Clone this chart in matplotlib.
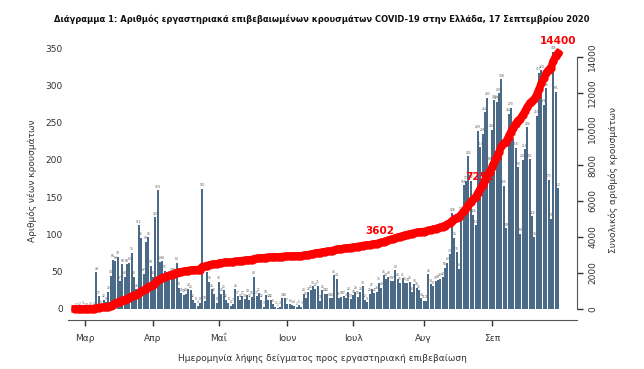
import numpy as np
import matplotlib.pyplot as plt

plt.rcParams['font.family'] = ['DejaVu Sans']

# ημερήσια νέα κρούσματα (κατά ημερομηνία δείγματος), 26 Φεβ - 17 Σεπ
feb_mar = [1, 1, 2, 3, 1, 0, 2, 1, 2,
           49, 17, 5, 12, 9, 23, 44, 66, 64, 70, 37, 60, 43, 60, 62, 75, 43, 26,
           112, 95, 47, 90, 96, 58, 43, 123, 159, 63, 64, 51]
apr = [41, 42, 47, 48, 62, 28, 21, 19, 20, 27, 25, 12, 8, 4, 8, 161]
may_jun = [10, 49, 36, 26, 20, 8, 36, 20, 25, 12, 8, 4, 7, 26, 17, 12, 17, 13, 19, 12,
           16, 43, 17, 21, 12, 3, 18, 12, 12, 6, 3, 1, 3, 14, 14, 7, 6, 5, 4]
jun_jul = [2, 5, 3, 20, 15, 22, 25, 30, 27, 31, 11, 25, 20, 20, 14, 14, 45, 40, 15, 16,
           17, 14, 22, 13, 18, 23, 16, 22, 30, 12, 9, 20, 27, 21]
jul_aug = [23, 35, 28, 45, 40, 43, 37, 37, 52, 40, 35, 41, 35, 34, 36, 22, 33, 28, 25, 14,
           11, 11, 46, 33, 30, 37, 38, 40, 42, 55, 62, 73]
aug_sep = [128, 95, 76, 54, 129, 166, 171, 205, 172, 126, 112, 239, 217, 235, 264,
           283, 196, 240, 280, 278, 289, 308, 165, 108, 262, 270, 228, 216, 190, 101,
           200, 214, 244, 201, 124, 96, 259, 317, 320, 274, 296, 173, 121, 345, 291, 162]

daily = np.array(feb_mar + apr + may_jun + jun_jul + jul_aug + aug_sep)
cumulative = np.cumsum(daily)
days = np.arange(len(daily))

month_labels = ['Μαρ', 'Απρ', 'Μαΐ', 'Ιουν', 'Ιουλ', 'Αυγ', 'Σεπ']
month_pos = [4, 33, 61, 90, 118, 148, 177]
cum_labels = ['3602', '7252', '14400']

bar_color = '#4b6a88'
red = '#ff0000'
txt = '#333333'

fig = plt.figure(figsize=(6.44, 3.69), dpi=100)
ax = fig.add_axes([0.106, 0.133, 0.79, 0.757])

ax.bar(days, daily, width=0.85, color=bar_color, zorder=2)
for d, v in zip(days, daily):
    ax.text(d, v + 2, str(v), fontsize=2.2, ha='center', va='bottom', color='#555555')

ax.set_xlim(-2.97, 213.1)
ax.set_ylim(-15, 360)
ax.set_yticks(np.arange(0, 351, 50))
ax.set_xticks(month_pos)
ax.set_xticklabels(month_labels)
ax.tick_params(axis='x', length=4, width=1, color=txt, labelsize=6.5, labelcolor=txt, pad=6)
ax.tick_params(axis='y', length=0, labelsize=6.5, labelcolor=txt, pad=4)
for s in ['top', 'right', 'left']:
    ax.spines[s].set_visible(False)
ax.spines['bottom'].set_color('#555555')
ax.set_ylabel('Αριθμός νέων κρουσμάτων', fontsize=6.5, color=txt, labelpad=6)
ax.set_xlabel('Ημερομηνία λήψης δείγματος προς εργαστηριακή επιβεβαίωση',
              fontsize=6.5, color=txt, labelpad=8)

ax2 = ax.twinx()
ax2.plot(days, cumulative, color=red, lw=5.5, marker='o', ms=5, zorder=5)
ax2.set_ylim(-611, 14917)
ax2.set_yticks(np.arange(0, 14001, 2000))
ax2.tick_params(axis='y', length=4, width=1, color=txt, labelsize=6.5, labelcolor=txt,
                labelrotation=90, pad=4)
for lab in ax2.get_yticklabels():
    lab.set_va('center')
for s in ['top', 'left', 'bottom']:
    ax2.spines[s].set_visible(False)
ax2.spines['right'].set_bounds(0, 14000)
ax2.spines['right'].set_color('#555555')
ax2.set_ylabel('Συνολικός αριθμός κρουσμάτων', fontsize=6.5, color=txt, labelpad=8)

# ετικέτες συνολικών κρουσμάτων
i1 = int(np.argmin(np.abs(cumulative - 3602)))
i2 = int(np.argmin(np.abs(cumulative - 7252)))
ax2.annotate(cum_labels[0], (i1, cumulative[i1]), xytext=(4, 6), textcoords='offset points',
             fontsize=7.5, fontweight='bold', color=red, ha='center', va='bottom', zorder=6)
ax2.annotate(cum_labels[1], (i2, cumulative[i2]), xytext=(-4, 2), textcoords='offset points',
             fontsize=7.5, fontweight='bold', color=red, ha='center', va='center', zorder=4)
ax2.annotate(cum_labels[2], (days[-1], cumulative[-1]), xytext=(0, 5), textcoords='offset points',
             fontsize=7.5, fontweight='bold', color=red, ha='center', va='bottom', zorder=6)

title = fig.text(0.5, 0.948, 'Διάγραμμα 1: Αριθμός εργαστηριακά επιβεβαιωμένων κρουσμάτων COVID-19 στην Ελλάδα, 17 Σεπτεμβρίου 2020',
                 ha='center', va='center', fontsize=8.5, fontweight='bold', color='#111111')
# τίτλος ~530 px πλάτος όπως στο πρωτότυπο
renderer = fig.canvas.get_renderer()
w = title.get_window_extent(renderer).width
title.set_fontsize(8.5 * 530 / w)

fig.savefig('out.png', dpi=100)
